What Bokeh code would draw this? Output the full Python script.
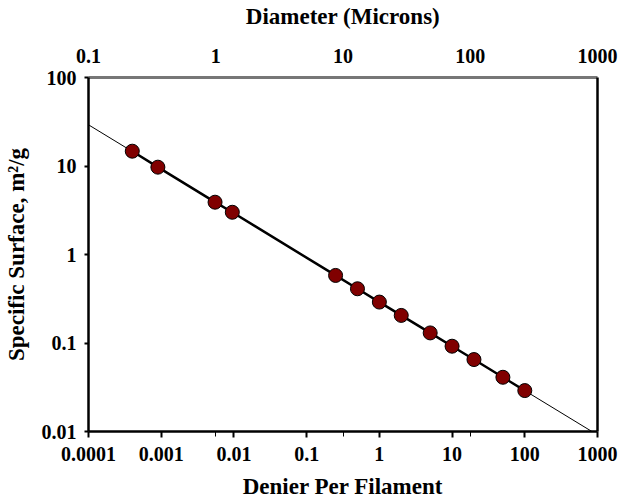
import numpy as np
from bokeh.plotting import figure
from bokeh.models import (Range1d, LogScale, LogAxis, FixedTicker, CustomJSTickFormatter)
from bokeh.embed import file_html
from bokeh.resources import INLINE

# ---- data ----
denier = [0.0004, 0.0009, 0.0055, 0.0095, 0.25, 0.5, 1, 2, 5, 10, 20, 50, 100]
surface = [14.7, 9.7, 3.9, 3.0, 0.58, 0.41, 0.29, 0.205, 0.13, 0.092, 0.065, 0.041, 0.029]

x_ticks = [0.0001, 0.001, 0.01, 0.1, 1, 10, 100, 1000]
x_labels = ["0.0001", "0.001", "0.01", "0.1", "1", "10", "100", "1000"]
y_ticks = [0.01, 0.1, 1, 10, 100]
y_labels = ["0.01", "0.1", "1", "10", "100"]
d_ticks = [0.1, 1, 10, 100, 1000]
d_labels = ["0.1", "1", "10", "100", "1000"]

FONT = "'Liberation Serif', 'Times New Roman', serif"

def fmt(tv, tl):
    return CustomJSTickFormatter(args=dict(tv=tv, tl=tl), code="""
        let best = 0, bd = 1e9;
        for (let i = 0; i < tv.length; i++) {
            const d = Math.abs(Math.log10(tv[i]) - Math.log10(tick));
            if (d < bd) { bd = d; best = i; }
        }
        return tl[best];
    """)

x0, x1 = x_ticks[0], x_ticks[-1]
y0, y1 = y_ticks[0], y_ticks[-1]
d0, d1 = d_ticks[0], d_ticks[-1]

p = figure(frame_width=509, frame_height=354, x_axis_type="log", y_axis_type="log",
           x_range=Range1d(x0, x1), y_range=Range1d(y0, y1),
           output_backend="svg", toolbar_location=None,
           min_border_left=80, min_border_right=21, min_border_top=69,
           min_border_bottom=63)
p.grid.visible = False
p.outline_line_color = None
p.background_fill_color = "white"

# minor ticks on bottom at positions of the diameter-axis decades
lx0, lx1 = np.log10(x0), np.log10(x1)
ld0, ld1 = np.log10(d0), np.log10(d1)
minor = [float(10 ** (lx0 + (np.log10(d) - ld0) / (ld1 - ld0) * (lx1 - lx0))) for d in d_ticks[1:-1]]

xa = p.xaxis[0]
xa.ticker = FixedTicker(ticks=x_ticks, minor_ticks=minor)
xa.formatter = fmt(x_ticks, x_labels)
xa.axis_label = "Denier Per Filament"

ya = p.yaxis[0]
ya.ticker = FixedTicker(ticks=y_ticks, minor_ticks=[])
ya.formatter = fmt(y_ticks, y_labels)
ya.axis_label = "Specific Surface, m\u00b2/g"

for ax in (xa, ya):
    ax.axis_line_width = 2.5
    ax.axis_line_color = "black"
    ax.major_tick_line_width = 2
    ax.major_tick_out = 6
    ax.major_tick_in = 0
    ax.minor_tick_line_width = 1
    ax.minor_tick_out = 5
    ax.minor_tick_in = 0
    ax.major_label_text_font = FONT
    ax.major_label_text_font_style = "bold"
    ax.major_label_text_font_size = "20px"
    ax.major_label_text_color = "black"
    ax.axis_label_text_font = FONT
    ax.axis_label_text_font_style = "bold"
    ax.axis_label_text_font_size = "23px"
    ax.axis_label_text_color = "black"

xa.major_label_standoff = 9
xa.axis_label_standoff = 10
ya.major_tick_out = 4
ya.major_label_standoff = 8
ya.axis_label_standoff = 10

# top axis: diameter
p.extra_x_ranges = {"diam": Range1d(d0, d1)}
p.extra_x_scales = {"diam": LogScale()}
ta = LogAxis(x_range_name="diam", ticker=FixedTicker(ticks=d_ticks, minor_ticks=[]),
             formatter=fmt(d_ticks, d_labels), axis_label="Diameter (Microns)")
ta.axis_line_width = 3
ta.axis_line_color = "#777777"
ta.major_tick_line_color = None
ta.minor_tick_line_color = None
ta.major_tick_out = 0
ta.major_tick_in = 0
ta.major_label_text_font = FONT
ta.major_label_text_font_style = "bold"
ta.major_label_text_font_size = "20px"
ta.major_label_text_color = "black"
ta.major_label_standoff = 15
ta.axis_label_text_font = FONT
ta.axis_label_text_font_style = "bold"
ta.axis_label_text_font_size = "23px"
ta.axis_label_text_color = "black"
ta.axis_label_standoff = 17
p.add_layout(ta, "above")

# right border axis
ra = LogAxis(ticker=FixedTicker(ticks=[], minor_ticks=[]))
ra.axis_line_width = 2.5
ra.axis_line_color = "black"
ra.major_tick_line_color = None
ra.minor_tick_line_color = None
ra.major_label_text_font_size = "0px"
p.add_layout(ra, "right")

# trend line (power fit in log space)
m, b = np.polyfit(np.log10(denier), np.log10(surface), 1)
tx = [x0, x1]
ty = [float(10 ** (b + m * np.log10(v))) for v in tx]
p.line(tx, ty, line_color="black", line_width=1)

# series line and markers
p.line(denier, surface, line_color="black", line_width=2.5)
p.scatter(denier, surface, size=14, fill_color="#800000", line_color="black", line_width=1)

open("out.html", "w").write(file_html(p, INLINE))
